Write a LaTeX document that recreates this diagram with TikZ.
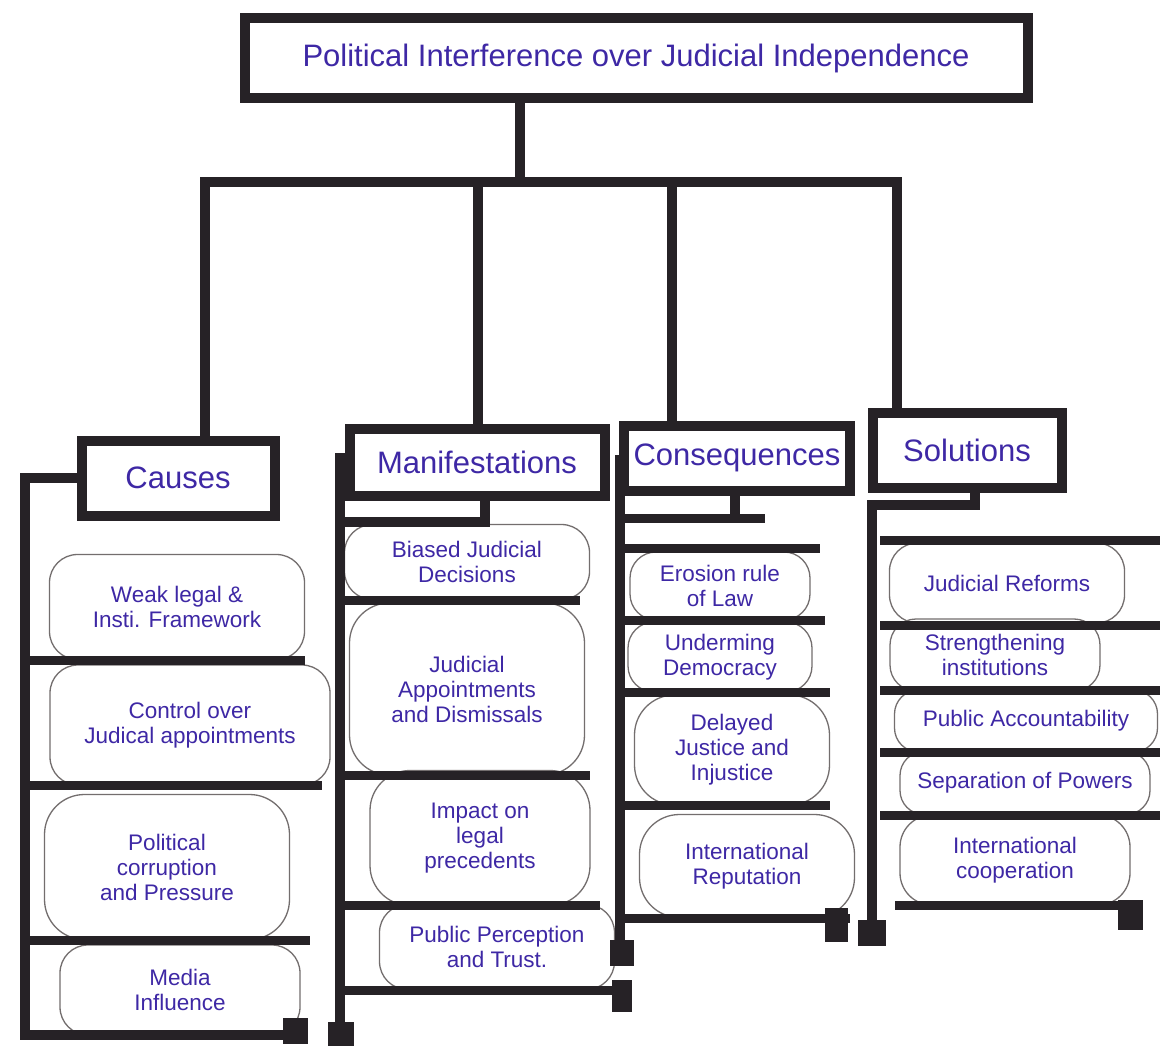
\documentclass[tikz,border=0pt]{standalone}
\usepackage{fontspec}
\setmainfont{Liberation Sans}
\definecolor{ink}{RGB}{62,40,165}
\definecolor{marker}{RGB}{38,34,38}
\definecolor{pencil}{RGB}{115,110,110}
\tikzset{
  heavy/.style={draw=marker,line width=10pt,line cap=rect},
  rung/.style={draw=marker,line width=9pt,line cap=butt},
  catbox/.style={draw=marker,line width=10pt,text=ink,inner sep=0pt,
    font=\fontsize{31}{35}\selectfont},
  item/.style={draw=pencil,line width=1.3pt,rounded corners=28pt,text=ink,
    align=center,inner sep=0pt,font=\fontsize{22.5}{25}\selectfont},
  blockend/.style={fill=marker}
}
\begin{document}
\begin{tikzpicture}[x=1pt,y=-1pt]
\useasboundingbox (0,0) rectangle (1167,1048);
\fill[white] (0,0) rectangle (1167,1048);

% ---------- title and category boxes
\node[catbox,minimum width=783pt,minimum height=80pt,font=\fontsize{31}{36}\selectfont]
  (title) at (636,58) {Political Interference over Judicial Independence};
\node[catbox,minimum width=193pt,minimum height=75pt] (causes) at (178,478) {Causes};
\node[catbox,minimum width=255pt,minimum height=67pt] (manif) at (477,462) {Manifestations};
\node[catbox,minimum width=226pt,minimum height=65pt] (conseq) at (737,458) {Consequences};
\node[catbox,minimum width=189pt,minimum height=75pt] (solut) at (967,450) {Solutions};

% ---------- tree connectors
\coordinate (hub) at (520,182);
\coordinate (j1) at (205,182);
\coordinate (j2) at (478,182);
\coordinate (j3) at (672,182);
\coordinate (j4) at (897,182);
\draw[heavy] (title.south -| hub) -- (hub);
\draw[heavy] (j1) -- (j4);
\draw[heavy] (j1) -- (j1 |- causes.north);
\draw[heavy] (j2) -- (j2 |- manif.north);
\draw[heavy] (j3) -- (j3 |- conseq.north);
\draw[heavy] (j4) -- (j4 |- solut.north);

% ---------- Causes items
\node[item,minimum width=255pt,minimum height=105pt] (c1) at (177,607) {Weak legal \&\\ Insti. Framework};
\node[item,minimum width=280pt,minimum height=120pt] (c2) at (190,725) {Control over\\ Judical appointments};
\node[item,minimum width=245pt,minimum height=145pt,rounded corners=40pt] (c3) at (167,867) {Political\\ corruption\\ and Pressure};
\node[item,minimum width=240pt,minimum height=90pt] (c4) at (180,990) {Media\\ Influence};
\draw[heavy] (causes.west) -- (25,478) -- (25,1035) -- (300,1035);
\draw[rung] (25,660) -- (305,660);
\draw[rung] (25,785) -- (322,785);
\draw[rung] (25,940) -- (310,940);
\fill[blockend] (283,1018) rectangle (308,1044);

% ---------- Manifestations items
\node[item,minimum width=245pt,minimum height=75pt] (m1) at (467,562) {Biased Judicial\\ Decisions};
\node[item,minimum width=235pt,minimum height=172pt,rounded corners=40pt] (m2) at (467,689) {Judicial\\ Appointments\\ and Dismissals};
\node[item,minimum width=220pt,minimum height=135pt,rounded corners=40pt] (m3) at (480,838) {Impact on\\ legal\\ precedents};
\node[item,minimum width=235pt,minimum height=85pt] (m4) at (497,947) {Public Perception\\ and Trust.};
\coordinate (m0) at (485,522);
\draw[heavy] (340,458) -- (340,1038);
\draw[heavy] (manif.south -| m0) -- (m0) -- (345,522);
\draw[rung] (340,600) -- (580,600);
\draw[rung] (340,775) -- (590,775);
\draw[rung] (340,905) -- (600,905);
\draw[rung] (340,990) -- (630,990);
\fill[blockend] (612,980) rectangle (632,1012);
\fill[blockend] (328,1022) rectangle (354,1046);

% ---------- Consequences items
\node[item,minimum width=180pt,minimum height=68pt,rounded corners=26pt] (q1) at (720,586) {Erosion rule\\ of Law};
\node[item,minimum width=184pt,minimum height=70pt,rounded corners=26pt] (q2) at (720,657) {Underming\\ Democracy};
\node[item,minimum width=195pt,minimum height=110pt,rounded corners=40pt] (q3) at (732,750) {Delayed\\ Justice and\\ Injustice};
\node[item,minimum width=215pt,minimum height=103pt,rounded corners=40pt] (q4) at (747,866) {International\\ Reputation};
\coordinate (q0) at (735,518);
\draw[heavy] (620,460) -- (620,952);
\draw[heavy] (conseq.south -| q0) -- (q0);
\draw[rung] (625,518) -- (765,518);
\draw[rung] (620,548) -- (820,548);
\draw[rung] (620,620) -- (825,620);
\draw[rung] (620,692) -- (830,692);
\draw[rung] (620,805) -- (830,805);
\draw[rung] (620,918) -- (850,918);
\fill[blockend] (825,908) rectangle (848,942);
\fill[blockend] (610,940) rectangle (634,966);

% ---------- Solutions items
\node[item,minimum width=235pt,minimum height=80pt] (s1) at (1007,583) {Judicial Reforms};
\node[item,minimum width=210pt,minimum height=72pt,rounded corners=26pt] (s2) at (995,655) {Strengthening\\ institutions};
\node[item,minimum width=263pt,minimum height=62pt,rounded corners=24pt] (s3) at (1026,721) {Public Accountability};
\node[item,minimum width=250pt,minimum height=63pt,rounded corners=24pt] (s4) at (1025,783) {Separation of Powers};
\node[item,minimum width=230pt,minimum height=90pt,rounded corners=32pt] (s5) at (1015,860) {International\\ cooperation};
\coordinate (s0) at (975,505);
\draw[heavy] (872,505) -- (872,932);
\draw[heavy] (solut.south -| s0) -- (s0) -- (872,505);
\draw[rung] (880,540) -- (1160,540);
\draw[rung] (880,625) -- (1160,625);
\draw[rung] (880,690) -- (1160,690);
\draw[rung] (880,752) -- (1160,752);
\draw[rung] (880,815) -- (1160,815);
\draw[rung] (895,905) -- (1140,905);
\fill[blockend] (1118,900) rectangle (1143,930);
\fill[blockend] (858,920) rectangle (886,946);
\end{tikzpicture}
\end{document}
